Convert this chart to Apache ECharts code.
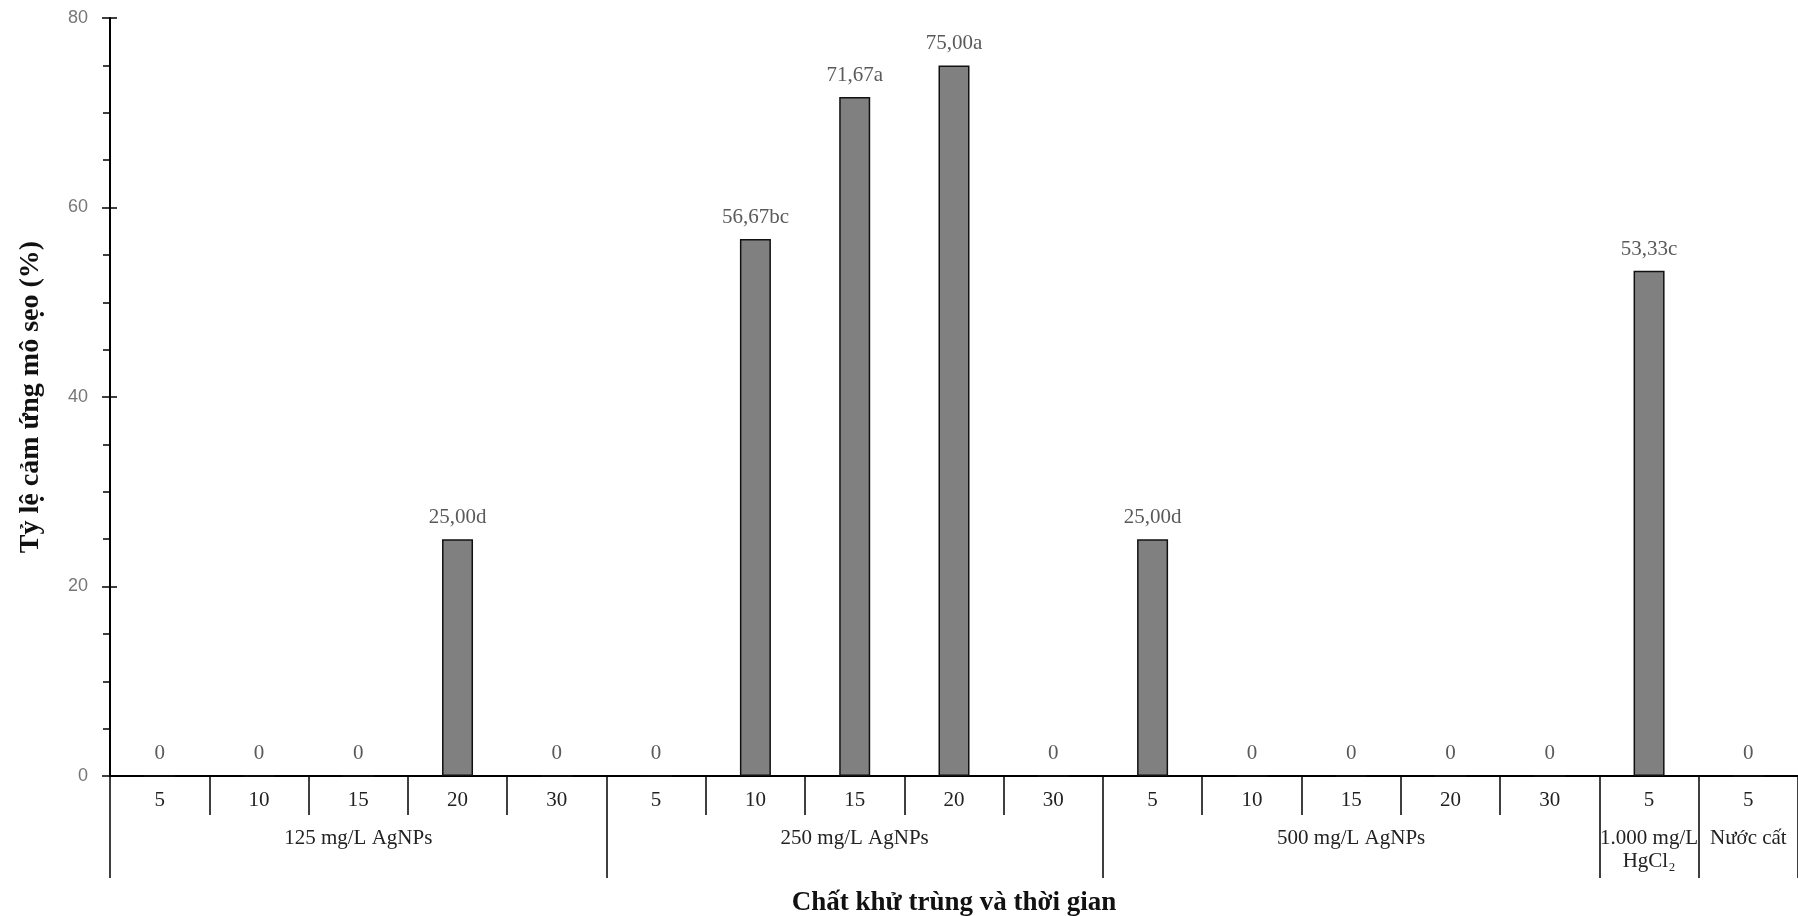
<!DOCTYPE html>
<html>
<head>
<meta charset="utf-8">
<title>Tỷ lệ cảm ứng mô sẹo</title>
<script src="https://cdn.jsdelivr.net/npm/echarts@6/dist/echarts.min.js"></script>
<style>
  html, body { margin: 0; padding: 0; background: #ffffff; }
  #chart { width: 1798px; height: 916px; }
</style>
</head>
<body>
<div id="chart"></div>
<script>
// Exposure time (minutes) for each treatment
const times = ['5', '10', '15', '20', '30', '5', '10', '15', '20', '30', '5', '10', '15', '20', '30', '5', '5'];
// Group label shown under the middle time of each disinfectant group
const groupLabels = ['', '', '125 mg/L AgNPs', '', '', '', '', '250 mg/L AgNPs', '', '', '', '', '500 mg/L AgNPs', '', '', '1.000 mg/L\nHgCl₂', 'Nước cất'];
// Index of the first treatment of each group (separator positions)
const groupStarts = [0, 5, 10, 15, 16];
// Callus induction rate (%)
const callusRate = [0, 0, 0, 25.00, 0, 0, 56.67, 71.67, 75.00, 0, 25.00, 0, 0, 0, 0, 53.33, 0];
// Statistical significance letters
const sigLetters = ['', '', '', 'd', '', '', 'bc', 'a', 'a', '', 'd', '', '', '', '', 'c', ''];
// Y axis range
const yMin = 0, yMax = 80, yStep = 20;

const serif = '"Liberation Serif", "Times New Roman", serif';
const sans = '"Liberation Sans", Arial, sans-serif';

const chart = echarts.init(document.getElementById('chart'));
chart.setOption({
  animation: false,
  backgroundColor: '#ffffff',
  grid: { left: 110, right: 0, top: 18, bottom: 140, containLabel: false, outerBoundsMode: 'none' },
  xAxis: [
    {
      type: 'category',
      data: times,
      boundaryGap: true,
      axisLine: { show: true, lineStyle: { color: '#000', width: 2 } },
      axisTick: { show: true, interval: 0, length: 39, lineStyle: { color: '#000', width: 1.5 } },
      axisLabel: { interval: 0, margin: 14, fontFamily: serif, fontSize: 21, color: '#222' },
      splitLine: { show: false },
      name: 'Chất khử trùng và thời gian',
      nameLocation: 'middle',
      nameGap: 114,
      nameTextStyle: { fontFamily: serif, fontSize: 27, fontWeight: 'bold', color: '#111' }
    },
    {
      type: 'category',
      data: groupLabels,
      position: 'bottom',
      boundaryGap: true,
      axisLine: { show: false },
      axisTick: {
        show: true,
        interval: function (index) { return groupStarts.indexOf(index) !== -1; },
        length: 102,
        lineStyle: { color: '#000', width: 1.5 }
      },
      axisLabel: { interval: 0, margin: 51, fontFamily: serif, fontSize: 21, lineHeight: 23, color: '#222' },
      splitLine: { show: false }
    }
  ],
  yAxis: [
    {
      type: 'value',
      min: yMin,
      max: yMax,
      interval: yStep,
      axisLine: { show: true, lineStyle: { color: '#000', width: 2 } },
      axisTick: { show: true, length: 8, lineStyle: { color: '#000', width: 1.5 } },
      minorTick: { show: true, splitNumber: 4, length: 7, lineStyle: { color: '#000', width: 1.5 } },
      axisLabel: { margin: 22, fontFamily: sans, fontSize: 18, color: '#777' },
      splitLine: { show: false },
      name: 'Tỷ lệ cảm ứng mô sẹo (%)',
      nameLocation: 'middle',
      nameRotate: 90,
      nameGap: 65,
      nameTextStyle: { fontFamily: serif, fontSize: 28, fontWeight: 'bold', color: '#111' }
    },
    {
      type: 'value',
      min: yMin,
      max: yMax,
      interval: yStep,
      position: 'left',
      axisLine: { show: false },
      axisTick: { show: true, inside: true, length: 7, lineStyle: { color: '#000', width: 1.5 } },
      axisLabel: { show: false },
      splitLine: { show: false }
    }
  ],
  series: [
    {
      type: 'bar',
      xAxisIndex: 0,
      yAxisIndex: 0,
      data: callusRate,
      barWidth: 31,
      itemStyle: { color: '#808080', borderColor: '#111', borderWidth: 1.5 },
      label: {
        show: true,
        position: 'top',
        distance: 11,
        fontFamily: serif,
        fontSize: 21,
        color: '#5a5a5a',
        formatter: function (p) {
          const v = callusRate[p.dataIndex];
          if (v === 0) return '0';
          return v.toFixed(2).replace('.', ',') + sigLetters[p.dataIndex];
        }
      }
    }
  ]
});
</script>
</body>
</html>
